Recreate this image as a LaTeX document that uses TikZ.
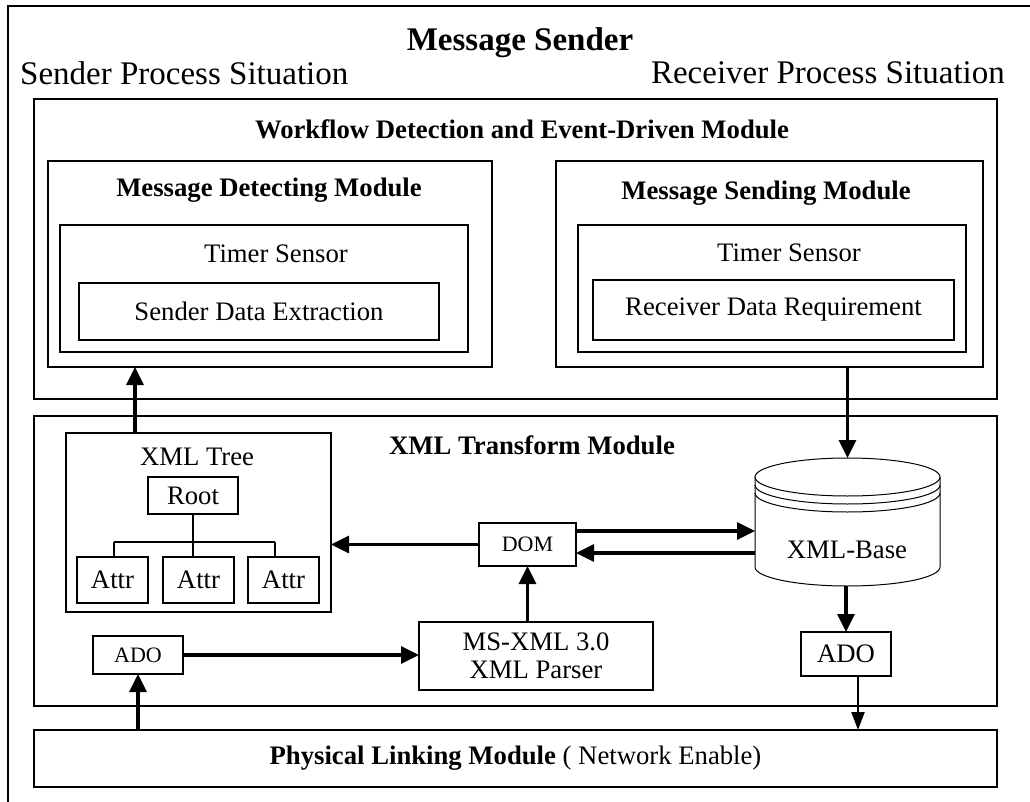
\documentclass[tikz,border=0pt]{standalone}
\usepackage{fontspec}
\setmainfont{Liberation Serif}
\usetikzlibrary{arrows.meta}
\newcommand{\fbig}{\fontsize{33}{38}\selectfont}
\newcommand{\fmid}{\fontsize{26.7}{28}\selectfont}
\newcommand{\fsml}{\fontsize{22}{26}\selectfont}
\begin{document}
\begin{tikzpicture}[x=1pt,y=-1pt,
  box/.style={draw, line width=2.2pt, inner sep=0pt, outer sep=0pt, fill=white},
  lbl/.style={inner sep=0pt, font=\fmid},
  arr/.style={line width=3.2pt, -{Triangle[length=18pt,width=17pt]}},
  thinarr/.style={line width=2.2pt, -{Triangle[length=18pt,width=13pt]}},
  tline/.style={line width=2pt},
  cyl/.style={line width=1pt},
]
\useasboundingbox (0,0) rectangle (1030,802);
% outer frame
\draw[line width=2pt] (8,802) -- (8,6) -- (1030,6);
% top texts
\node[inner sep=0pt, font=\fbig\bfseries] (title) at (520,43) {Message Sender};
\node[inner sep=0pt, font=\fbig, anchor=west] (sps) at (20,73) {Sender Process Situation};
\node[inner sep=0pt, font=\fbig, anchor=east] (rps) at (1005,73) {Receiver Process Situation};

% Workflow module
\node[box, minimum width=963, minimum height=300] (wf) at (515.5,249) {};
\node[lbl, font=\fmid\bfseries] (wft) at (522,129) {Workflow Detection and Event-Driven Module};
% Message detecting module
\node[box, minimum width=444, minimum height=206] (md) at (270,264) {};
\node[lbl, font=\fmid\bfseries] (mdt) at (269,190) {Message Detecting Module};
\node[box, minimum width=408, minimum height=127] (tl) at (264,288.5) {};
\node[lbl] (tlt) at (276,254) {Timer Sensor};
\node[box, minimum width=360, minimum height=57, font=\fmid] (sde) at (259,311.5) {Sender Data Extraction};
% Message sending module
\node[box, minimum width=427, minimum height=206] (msm) at (769.5,264) {};
\node[lbl, font=\fmid\bfseries] (msmt) at (766,193) {Message Sending Module};
\node[box, minimum width=388, minimum height=127] (tr) at (772,288.5) {};
\node[lbl] (trt) at (789,253) {Timer Sensor};
\node[box, minimum width=361, minimum height=60, font=\fmid] (rdr) at (773.5,310) {Receiver Data Requirement};

% XML transform module
\node[box, minimum width=963, minimum height=290] (xt) at (515.5,561) {};
\node[lbl, font=\fmid\bfseries] (xtt) at (532,445) {XML Transform Module};
% XML tree
\node[box, minimum width=265, minimum height=179] (tree) at (198.5,522.5) {};
\node[lbl] (treet) at (197,457) {XML Tree};
\node[box, minimum width=90, minimum height=37, font=\fmid] (root) at (193,495.5) {Root};
\node[box, minimum width=71, minimum height=46, font=\fmid] (a1) at (112.5,580) {Attr};
\node[box, minimum width=71, minimum height=46, font=\fmid] (a2) at (198.5,580) {Attr};
\node[box, minimum width=71, minimum height=46, font=\fmid] (a3) at (283.5,580) {Attr};
\coordinate (d1) at (114,542);
\coordinate (d3) at (275,542);
\draw[tline] (d1) -- (d3);
\draw[tline] (d1) -- (d1 |- a1.north);
\draw[tline] (d3) -- (d3 |- a3.north);
\draw[tline] (root.south) -- (root.south |- a2.north);
% DOM, parser, ADO
\node[box, minimum width=97, minimum height=43, font=\fsml] (dom) at (527.5,544.5) {DOM};
\node[box, minimum width=234, minimum height=68, font=\fmid, align=center] (ms) at (536,656) {MS-XML 3.0\\XML Parser};
\node[box, minimum width=90, minimum height=38, font=\fsml] (adol) at (138,655) {ADO};
\node[box, minimum width=90, minimum height=44, font=\fmid] (ador) at (846,654) {ADO};
% XML-Base cylinder
\fill[white] (755,477) -- (755,567) arc[start angle=180,end angle=360,x radius=92.5pt,y radius=19pt] -- (940,477) arc[start angle=0,end angle=180,x radius=92.5pt,y radius=19pt] -- cycle;
\draw[cyl] (755,477) -- (755,567) arc[start angle=180,end angle=360,x radius=92.5pt,y radius=19pt] -- (940,477);
\draw[cyl] (847.5,477) ellipse [x radius=92.5pt, y radius=19pt];
\draw[cyl] (755,485) arc[start angle=180,end angle=360,x radius=92.5pt,y radius=19pt];
\draw[cyl] (755,493) arc[start angle=180,end angle=360,x radius=92.5pt,y radius=19pt];
\node[inner sep=0pt, outer sep=0pt, minimum width=185, minimum height=128] (xb) at (847.5,522) {};
\node[lbl] (xbt) at (847,550) {XML-Base};

% Physical linking module
\node[box, minimum width=963, minimum height=57, font=\fmid] (phys) at (515.5,758.5) {\textbf{Physical Linking Module} ( Network Enable)};

% connectors
\coordinate (c1) at (135,0);
\coordinate (c2) at (858,0);
\coordinate (r1) at (0,531);
\coordinate (r2) at (0,553);
\draw[arr] (tree.north -| c1) -- (md.south -| c1);
\draw[arr] (msm.south -| xb.north) -- (xb.north);
\draw[arr] (dom.west) -- (dom.west -| tree.east);
\draw[arr] (dom.east |- r1) -- (xb.west |- r1);
\draw[arr] (xb.west |- r2) -- (dom.east |- r2);
\draw[arr] (dom.south |- ms.north) -- (dom.south);
\draw[arr] (adol.east) -- (adol.east -| ms.west);
\draw[arr] (phys.north -| adol.south) -- (adol.south);
\draw[arr] (ador.north |- xb.south) -- (ador.north);
\draw[thinarr] (ador.south -| c2) -- (phys.north -| c2);
\end{tikzpicture}
\end{document}
